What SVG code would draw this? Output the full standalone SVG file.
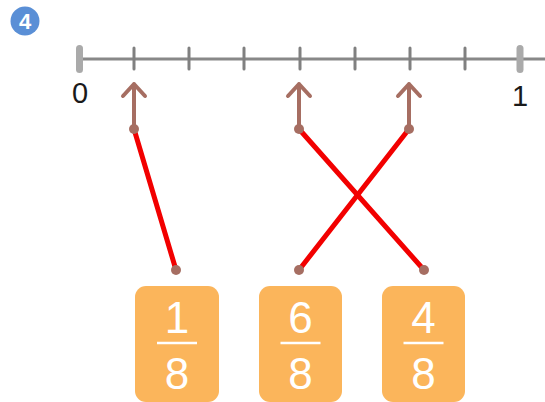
<svg xmlns="http://www.w3.org/2000/svg" width="545" height="402" viewBox="0 0 545 402">
<defs>
<style>
.tick{stroke:#808080;stroke-width:3;stroke-linecap:round}
.end{fill:#aaaaaa}
.arrow{stroke:#a66e62;stroke-width:4;fill:none;stroke-linecap:round;stroke-linejoin:round}
.dot{fill:#a66e62}
.link{stroke:#f20000;stroke-width:5;stroke-linecap:round}
.card{fill:#fbb55b}
.num{fill:#ffffff;font-family:"Liberation Sans",Arial,sans-serif;font-size:44px;text-anchor:middle}
.bar{stroke:#ffffff;stroke-width:2.5}
.lab{fill:#1a1a1a;font-family:"Liberation Sans",Arial,sans-serif;font-size:29px;text-anchor:middle}
</style>
</defs>
<rect width="545" height="402" fill="#ffffff"/>
<g id="badge">
<circle cx="25" cy="21" r="14.5" fill="#5a8fd6"/>
<text x="25" y="29" fill="#fff" font-family="Liberation Sans,Arial,sans-serif" font-size="22" font-weight="bold" text-anchor="middle">4</text>
</g>
<g id="numberline">
<line x1="79" y1="59" x2="545" y2="59" stroke="#888888" stroke-width="3"/>
<line class="tick" x1="134" y1="48" x2="134" y2="69"/>
<line class="tick" x1="189" y1="48" x2="189" y2="69"/>
<line class="tick" x1="244" y1="48" x2="244" y2="69"/>
<line class="tick" x1="300" y1="48" x2="300" y2="69"/>
<line class="tick" x1="355" y1="48" x2="355" y2="69"/>
<line class="tick" x1="410" y1="48" x2="410" y2="69"/>
<line class="tick" x1="465" y1="48" x2="465" y2="69"/>
<rect class="end" x="76" y="45" width="7" height="28" rx="3.5"/>
<rect class="end" x="516.5" y="45" width="7" height="28" rx="3.5"/>
<text class="lab" x="80" y="103">0</text>
<text class="lab" x="520" y="106">1</text>
</g>
<g id="arrows">
<path class="arrow" d="M134 129V84M123 96L134 84L145 96"/>
<path class="arrow" d="M299 129V84M288 96L299 84L310 96"/>
<path class="arrow" d="M409 129V84M398 96L409 84L420 96"/>
</g>
<g id="connectors">
<line class="link" x1="134" y1="129" x2="176" y2="270"/>
<line class="link" x1="299" y1="129" x2="424" y2="270"/>
<line class="link" x1="409" y1="129" x2="299" y2="270"/>
<circle class="dot" cx="134" cy="129" r="5"/>
<circle class="dot" cx="299" cy="129" r="5"/>
<circle class="dot" cx="409" cy="129" r="5"/>
<circle class="dot" cx="176" cy="270" r="5"/>
<circle class="dot" cx="299" cy="270" r="5"/>
<circle class="dot" cx="424" cy="270" r="5"/>
</g>
<g id="card1">
<rect class="card" x="135" y="286" width="84" height="116" rx="11"/>
<text class="num" x="177" y="333">1</text>
<line class="bar" x1="157" y1="343" x2="197" y2="343"/>
<text class="num" x="177" y="389">8</text>
</g>
<g id="card2">
<rect class="card" x="259" y="286" width="83" height="116" rx="11"/>
<text class="num" x="300.5" y="333">6</text>
<line class="bar" x1="280.5" y1="343" x2="320.5" y2="343"/>
<text class="num" x="300.5" y="389">8</text>
</g>
<g id="card3">
<rect class="card" x="382" y="286" width="83" height="116" rx="11"/>
<text class="num" x="423.5" y="333">4</text>
<line class="bar" x1="403.5" y1="343" x2="443.5" y2="343"/>
<text class="num" x="423.5" y="389">8</text>
</g>
</svg>
